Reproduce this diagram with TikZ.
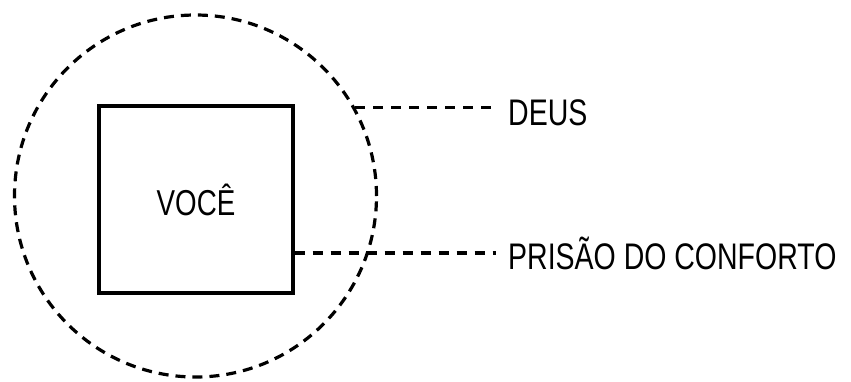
\documentclass[tikz,border=0pt]{standalone}
\usepackage{fontspec}
\setmainfont{Liberation Sans}[FakeStretch=0.77]
\tikzset{
halo/.style={draw,circle,line width=3.2pt,dash pattern=on 10pt off 7pt,minimum size=362pt,inner sep=0pt},
caixa/.style={draw,line width=3.2pt,minimum width=194pt,minimum height=187pt,inner sep=0pt,font=\fontsize{36}{40}\selectfont},
rotulo/.style={font=\fontsize{37}{40}\selectfont,inner xsep=12pt,inner ysep=0pt,anchor=west},
tracejado/.style={line width=3.2pt,dash pattern=on 10pt off 8pt}
}
\begin{document}
\begin{tikzpicture}[x=1pt,y=-1pt]
\useasboundingbox (0,0) rectangle (851,381);
\node[halo] (deus) at (195.5,196) {};
\node[caixa] (voce) at (196,199.5) {VOCÊ};
\node[rotulo] (tdeus) at (496,112.5) {DEUS};
\node[rotulo] (tprisao) at (496,253) {PRISÃO DO CONFORTO};
% ligacoes
\draw[tracejado] (deus.29) -- (deus.29 -| tdeus.west);
\draw[tracejado] (tprisao.west -| voce.east) -- (tprisao.west);
\end{tikzpicture}
\end{document}
